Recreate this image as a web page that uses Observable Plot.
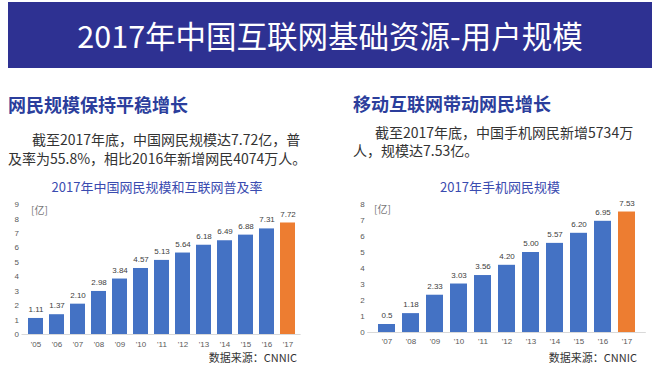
<!DOCTYPE html>
<html><head><meta charset="utf-8">
<script src="https://cdn.jsdelivr.net/npm/d3@7"></script>
<script src="https://cdn.jsdelivr.net/npm/@observablehq/plot@0.6"></script>
<style>
body{margin:0;width:652px;height:369px;position:relative;overflow:hidden;background:#fff;font-family:"Noto Sans CJK SC",sans-serif;}
.abs{position:absolute;white-space:nowrap;}
#band{left:8px;top:2px;width:644px;height:66px;background:#2e3192;}
#title{left:8px;width:644px;top:2px;height:66px;line-height:66px;text-align:center;color:#fff;font-size:30.5px;}
.h{font-size:18px;font-weight:bold;color:#2b3e9c;line-height:1;}
.p{font-size:14px;color:#333;line-height:1;}
.ct{font-size:13px;color:#3a4bb0;line-height:1;transform:translateX(-50%);}
.src{font-size:11px;color:#333;line-height:1;}
.unit{font-size:10px;color:#777;line-height:1;}
.chart{position:absolute;}
</style></head>
<body>
<div class="abs" id="band"></div>
<div class="abs" id="title">2017年中国互联网基础资源-用户规模</div>
<div class="abs h" style="left:8px;top:95px">网民规模保持平稳增长</div>
<div class="abs p" style="left:32px;top:132px">截至2017年底，中国网民规模达7.72亿，普</div>
<div class="abs p" style="left:8px;top:151px">及率为55.8%，相比2016年新增网民4074万人。</div>
<div class="abs h" style="left:353px;top:94px">移动互联网带动网民增长</div>
<div class="abs p" style="left:375px;top:125px">截至2017年底，中国手机网民新增5734万</div>
<div class="abs p" style="left:353px;top:143px">人，规模达7.53亿。</div>
<div class="abs ct" style="left:157px;top:180px">2017年中国网民规模和互联网普及率</div>
<div class="abs ct" style="left:500px;top:180px">2017年手机网民规模</div>
<div id="c1" class="chart" style="left:0px;top:195px"></div>
<div id="c2" class="chart" style="left:326px;top:195px"></div>
<div class="abs unit" style="left:31px;top:205px">[亿]</div>
<div class="abs unit" style="left:374px;top:204px">[亿]</div>
<div class="abs src" style="right:355px;top:352px">数据来源：CNNIC</div>
<div class="abs src" style="right:15px;top:352px">数据来源：CNNIC</div>
<script>
// Chart 1: 中国网民规模 (亿)
const yearsA = ["'05","'06","'07","'08","'09","'10","'11","'12","'13","'14","'15","'16","'17"];
const usersA = [1.11,1.37,2.10,2.98,3.84,4.57,5.13,5.64,6.18,6.49,6.88,7.31,7.72];
const labelsA = ["1.11","1.37","2.10","2.98","3.84","4.57","5.13","5.64","6.18","6.49","6.88","7.31","7.72"];
const ticksA = [0,1,2,3,4,5,6,7,8,9];
// Chart 2: 手机网民规模 (亿)
const yearsB = ["'07","'08","'09","'10","'11","'12","'13","'14","'15","'16","'17"];
const usersB = [0.5,1.18,2.33,3.03,3.56,4.20,5.00,5.57,6.20,6.95,7.53];
const labelsB = ["0.5","1.18","2.33","3.03","3.56","4.20","5.00","5.57","6.20","6.95","7.53"];
const ticksB = [0,1,2,3,4,5,6,7,8];

function chart(years, vals, labels, ticks, o){
  const data = years.map((y,i)=>({year:y, v:vals[i], label:labels[i], last:i===years.length-1}));
  return Plot.plot({
    width:o.width, height:o.height,
    marginLeft:o.ml, marginRight:o.mr, marginTop:o.mt, marginBottom:o.mb,
    style:{fontFamily:'"Liberation Sans", sans-serif', fontSize:"8px", color:"#595959", background:"transparent", overflow:"visible"},
    x:{domain:years, padding:o.pad, label:null, tickSize:0, tickPadding:o.xtp},
    y:{domain:[0, ticks[ticks.length-1]], ticks:ticks, label:null, tickSize:0, tickPadding:3},
    marks:[
      Plot.ruleY([0],{stroke:"#d9d9d9"}),
      Plot.barY(data,{x:"year", y:"v", fill:d=>d.last?"#ed7d31":"#4472c4"}),
      Plot.text(data,{x:"year", y:"v", text:"label", dy:-9, fill:"#404040"})
    ]
  });
}
document.getElementById("c1").appendChild(chart(yearsA, usersA, labelsA, ticksA,
  {width:310,height:160,ml:21.5,mr:9.4,mt:9,mb:21,pad:0.29,xtp:7}));
document.getElementById("c2").appendChild(chart(yearsB, usersB, labelsB, ticksB,
  {width:326,height:160,ml:41.2,mr:6.2,mt:9,mb:23,pad:0.28,xtp:6}));
</script>
</body></html>
